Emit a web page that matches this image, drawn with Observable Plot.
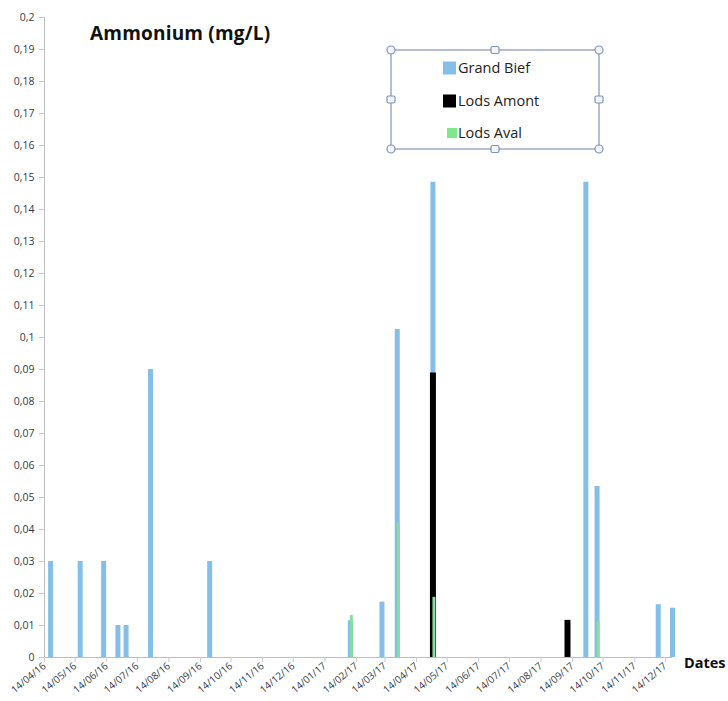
<!DOCTYPE html>
<html><head><meta charset="utf-8">
<script src="https://cdn.jsdelivr.net/npm/d3@7"></script>
<script src="https://cdn.jsdelivr.net/npm/@observablehq/plot@0.6"></script>
<style>
body{margin:0;background:#fff;}
#wrap{position:relative;width:728px;height:701px;font-family:"Open Sans",Lato,sans-serif;overflow:hidden;}
#title{position:absolute;left:90px;top:20px;font-weight:bold;font-size:19px;color:#111;letter-spacing:0.2px;}
#dates{position:absolute;left:684px;top:653px;font-weight:bold;font-size:14.5px;color:#111;}
#legend{position:absolute;left:0;top:0;}
</style></head><body><div id="wrap"><div id="title">Ammonium (mg/L)</div><div id="dates">Dates</div></div>
<script>
const seriesNames = ["Grand Bief", "Lods Amont", "Lods Aval"];
const seriesColors = ["#84bfe9", "#000000", "#86df9c"];

const grandBiefDates = ["2016-04-20","2016-05-19","2016-06-11","2016-06-25","2016-07-03","2016-07-27","2016-09-23","2017-02-08","2017-03-11","2017-03-26","2017-04-30","2017-09-27","2017-10-08","2017-12-07","2017-12-21"];
const grandBiefValues = [0.03,0.03,0.03,0.01,0.01,0.09,0.03,0.0115,0.0173,0.1025,0.1485,0.1485,0.0534,0.0165,0.0154];

const lodsAmontDates = ["2017-04-30","2017-09-09"];
const lodsAmontValues = [0.0889,0.0116];

const lodsAvalDates = ["2017-02-08","2017-03-26","2017-04-30","2017-10-08"];
const lodsAvalValues = [0.0131,0.042,0.0188,0.0113];

const xTickDates = ["2016-04-14","2016-05-14","2016-06-14","2016-07-14","2016-08-14","2016-09-14","2016-10-14","2016-11-14","2016-12-14","2017-01-14","2017-02-14","2017-03-14","2017-04-14","2017-05-14","2017-06-14","2017-07-14","2017-08-14","2017-09-14","2017-10-14","2017-11-14","2017-12-14"];
const yTicks = [0,0.01,0.02,0.03,0.04,0.05,0.06,0.07,0.08,0.09,0.1,0.11,0.12,0.13,0.14,0.15,0.16,0.17,0.18,0.19,0.2];

const toRows = (dates, values) => dates.map((d, i) => ({date: new Date(d), value: values[i]}));
const gb = toRows(grandBiefDates, grandBiefValues);
const la = toRows(lodsAmontDates, lodsAmontValues);
const lv = toRows(lodsAvalDates, lodsAvalValues);
const xStart = new Date("2016-04-14");
const xEnd = new Date("2017-12-21");

const fmtY = v => String(+v.toFixed(2)).replace(".", ",");

const chart = Plot.plot({
  width: 728, height: 701,
  marginLeft: 44, marginRight: 56, marginTop: 17, marginBottom: 44,
  style: {fontFamily: "'Open Sans', Lato, sans-serif", fontSize: "10.5px", background: "#fff", color: "#333"},
  x: {type: "utc", domain: [xStart, xEnd]},
  y: {domain: [0, 0.2]},
  marks: [
    Plot.ruleY([0], {stroke: "#bdbdbd", strokeWidth: 1}),
    Plot.ruleX([xStart], {stroke: "#bdbdbd", strokeWidth: 1}),
    Plot.axisY({ticks: yTicks, tickFormat: fmtY, tickSize: 5, tickPadding: 5, stroke: "#c8c8c8", fill: "#3a3a3a", label: null, fontSize: 10.5}),
    Plot.axisX({ticks: xTickDates.map(d => new Date(d)), tickFormat: d3.utcFormat("%d/%m/%y"), tickSize: 5, tickPadding: 2, tickRotate: -40, stroke: "#c8c8c8", fill: "#3a3a3a", label: null, fontSize: 10}),
    Plot.ruleX(gb, {x: "date", y1: 0, y2: "value", stroke: seriesColors[0], strokeWidth: 5}),
    Plot.ruleX(la, {x: "date", y1: 0, y2: "value", stroke: seriesColors[1], strokeWidth: 6}),
    Plot.ruleX(lv, {x: "date", y1: 0, y2: "value", stroke: seriesColors[2], strokeWidth: 3, dx: 1})
  ]
});
const wrap = document.getElementById("wrap");
wrap.insertBefore(chart, wrap.firstChild);

// legend (selected-box style)
const lg = d3.select("#wrap").append("svg").attr("id", "legend").attr("width", 728).attr("height", 701);
const bx = 391, by = 50, bw = 208, bh = 99;
lg.append("rect").attr("x", bx).attr("y", by).attr("width", bw).attr("height", bh)
  .attr("fill", "#fff").attr("stroke", "#8f9bbd").attr("stroke-width", 1.3);
const items = [
  {name: seriesNames[0], color: seriesColors[0], y: 68, s: 13, sx: 443},
  {name: seriesNames[1], color: seriesColors[1], y: 101, s: 13, sx: 443},
  {name: seriesNames[2], color: "#7ee88a", y: 133, s: 10, sx: 447}
];
items.forEach(it => {
  lg.append("rect").attr("x", it.sx).attr("y", it.y - it.s / 2).attr("width", it.s).attr("height", it.s).attr("fill", it.color);
  lg.append("text").attr("x", 458).attr("y", it.y + 5).attr("font-family", "'Open Sans', Lato, sans-serif")
    .attr("font-size", 14.5).attr("fill", "#222").text(it.name);
});
[[bx, by], [bx + bw, by], [bx, by + bh], [bx + bw, by + bh]].forEach(([cx, cy]) =>
  lg.append("circle").attr("cx", cx).attr("cy", cy).attr("r", 4).attr("fill", "#f4f6fb").attr("stroke", "#7f8fbf").attr("stroke-width", 1.2));
[[bx + bw / 2, by], [bx + bw / 2, by + bh], [bx, by + bh / 2], [bx + bw, by + bh / 2]].forEach(([cx, cy]) =>
  lg.append("rect").attr("x", cx - 4).attr("y", cy - 3.5).attr("width", 8).attr("height", 7).attr("rx", 1.5).attr("fill", "#f4f6fb").attr("stroke", "#7f8fbf").attr("stroke-width", 1.2));
d3.select("#title").raise();
d3.select("#dates").raise();
</script></body></html>
